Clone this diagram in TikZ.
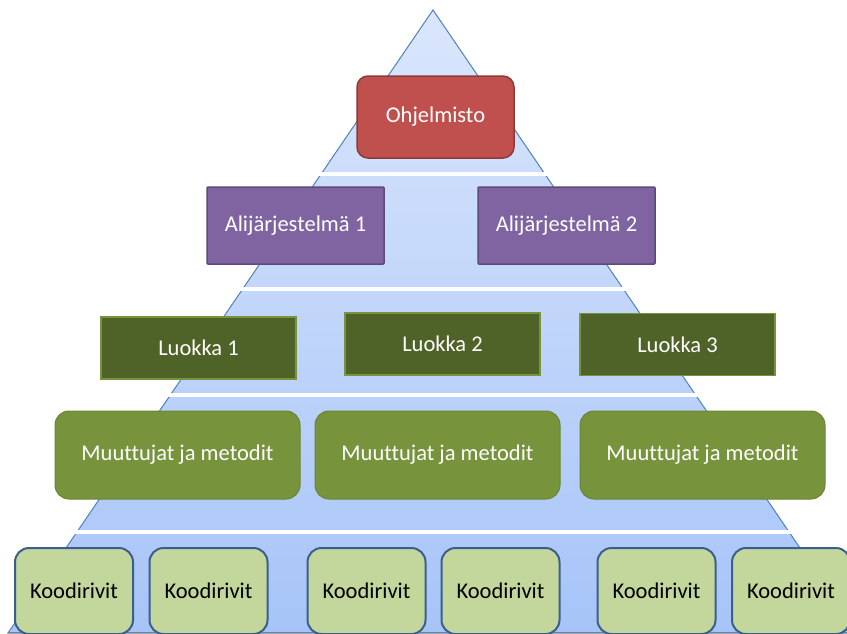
\documentclass[tikz,border=0pt]{standalone}
\usepackage{fontspec}
\setmainfont{Carlito}[Ligatures={NoCommon}]
\usetikzlibrary{positioning}

\definecolor{skytop}{HTML}{DAE6FC}
\definecolor{skybot}{HTML}{A7C4F8}
\definecolor{edgeblue}{HTML}{4F81BD}
\definecolor{ohjfill}{HTML}{C0504D}
\definecolor{ohjline}{HTML}{8C3A38}
\definecolor{alifill}{HTML}{8064A2}
\definecolor{aliline}{HTML}{5C4A7A}
\definecolor{luofill}{HTML}{4F6228}
\definecolor{luoline}{HTML}{77933C}
\definecolor{muufill}{HTML}{77933C}
\definecolor{muuline}{HTML}{6A8634}
\definecolor{koofill}{HTML}{C3D69B}
\definecolor{kooline}{HTML}{3A5F8E}

\begin{document}
\begin{tikzpicture}[x=1pt,y=-1pt,
  every node/.style={font=\fontsize{22.5}{27}\selectfont},
  box/.style={draw,line width=1.5pt,inner sep=0pt,text=white},
  ohjbox/.style={box,rounded corners=11pt,fill=ohjfill,draw=ohjline,minimum width=157pt,minimum height=82pt},
  alibox/.style={box,rounded corners=1pt,fill=alifill,draw=aliline,minimum width=177pt,minimum height=77pt},
  luobox/.style={box,fill=luofill,draw=luoline,minimum width=195pt,minimum height=62pt},
  muubox/.style={box,rounded corners=14pt,fill=muufill,draw=muuline,line width=1pt,minimum width=245pt,minimum height=88pt},
  koobox/.style={box,rounded corners=14pt,fill=koofill,draw=kooline,line width=2pt,text=black,minimum width=118pt,minimum height=86pt}]
\useasboundingbox (0,0) rectangle (847,633);
\clip (0,0) rectangle (847,633);

% pyramid
\shade[top color=skytop,bottom color=skybot] (433,10) -- (858,633) -- (8,633) -- cycle;
\draw[edgeblue,line width=1pt] (433,10) -- (858,633) -- (8,633) -- cycle;
\draw[gray,line width=1pt] (8,632.5) -- (858,632.5);
\foreach \y in {174,288.5,395,532}
  \draw[white,line width=4pt] (0,\y) -- (847,\y);

% levels
\node[ohjbox] (ohj) at (435.5,117) {Ohjelmisto};

\node[alibox] (ali1) at (295.5,225.5) {Alijärjestelmä 1};
\node[alibox] (ali2) at (566.5,225.5) {Alijärjestelmä 2};

\node[luobox] (luo1) at (198.5,348) {Luokka 1};
\node[luobox] (luo2) at (442.5,344) {Luokka 2};
\node[luobox] (luo3) at (677.5,344.5) {Luokka 3};

\node[muubox] (muu1) at (177.5,455) {Muuttujat ja metodit};
\node[muubox] (muu2) at (437.5,455) {Muuttujat ja metodit};
\node[muubox] (muu3) at (702.5,455) {Muuttujat ja metodit};

\foreach \x/\n in {74/1,208.5/2,366.5/3,500.5/4,656.5/5,791/6}
  \node[koobox] (koo\n) at (\x,591) {Koodirivit};
\end{tikzpicture}
\end{document}
